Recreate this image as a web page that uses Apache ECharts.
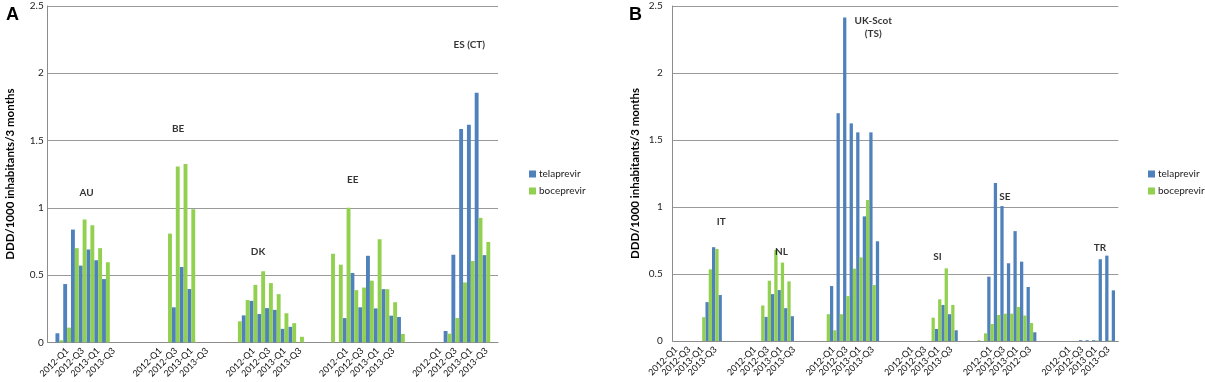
<!DOCTYPE html>
<html><head><meta charset="utf-8">
<script src="https://cdn.jsdelivr.net/npm/echarts@6/dist/echarts.min.js"></script>
<style>html,body{margin:0;padding:0;background:#fff}#c{width:1205px;height:382px}</style>
</head><body><div id="c"></div>
<script>
// Each country block: 10 quarter slots (2011-Q3 ... 2013-Q4) followed by 2 spacer slots.
const SERIES_NAMES = ['telaprevir', 'boceprevir'];
const Y_MAX = 2.5, Y_STEP = 0.5;
const Y_TITLE = 'DDD/1000 inhabitants/3 months';
const TICK_SLOTS = [2, 4, 6, 8];

// ---------- Panel A ----------
const A_COUNTRIES = ['AU', 'BE', 'DK', 'EE', 'ES (CT)'];
const A_TICKS = [
  ['2012-Q1', '2012-Q3', '2013-Q1', '2013-Q3'],
  ['2012-Q1', '2012-Q3', '2013-Q1', '2013-Q3'],
  ['2012-Q1', '2012-Q3', '2013-Q1', '2013-Q3'],
  ['2012-Q1', '2012-Q3', '2013-Q1', '2013-Q3'],
  ['2012-Q1', '2012-Q3', '2013-Q1', '2013-Q3']
];
const AU_TELA = [null, 0.067, 0.433, 0.838, 0.57, 0.69, 0.61, 0.47, null, null];
const AU_BOCE = [null, 0.015, 0.109, 0.70, 0.913, 0.87, 0.70, 0.595, null, null];
const BE_TELA = [null, null, null, null, 0.26, 0.56, 0.396, null, null, null];
const BE_BOCE = [null, null, null, 0.808, 1.306, 1.326, 0.99, null, null, null];
const DK_TELA = [null, 0.20, 0.308, 0.21, 0.254, 0.241, 0.10, 0.115, null, null];
const DK_BOCE = [0.156, 0.314, 0.427, 0.528, 0.44, 0.358, 0.216, 0.142, 0.041, null];
const EE_TELA = [null, null, 0.18, 0.515, 0.26, 0.643, 0.252, 0.395, 0.198, 0.188];
const EE_BOCE = [0.658, 0.577, 1.0, 0.388, 0.407, 0.458, 0.766, 0.395, 0.298, 0.062];
const ES_TELA = [null, null, null, 0.084, 0.651, 1.585, 1.617, 1.856, 0.648, null];
const ES_BOCE = [null, null, null, 0.064, 0.181, 0.445, 0.604, 0.925, 0.746, null];
const A_LABEL_SLOT = [5.0, 4.8, 3.1, 3.3, 6.3];
const A_LABEL_VALUE = [1.11, 1.59, 0.675, 1.21, 2.21];
const A_FIRST_SLOT = 0, A_SLOT_COUNT = 58;

// ---------- Panel B ----------
const B_COUNTRIES = ['IT', 'NL', 'UK-Scot\n(TS)', 'SI', 'SE', 'TR'];
const B_TICKS = [
  ['2012-Q1', '2012-Q3', '2013-Q1', '2013-Q3'],
  ['2012-Q1', '2012-Q3', '2013-Q1', '2013-Q3'],
  ['2012-Q1', '2012-Q3', '2013-Q1', '2013-Q3'],
  ['2012-Q1', '2012-Q3', '2013-Q1', '2013-Q3'],
  ['2012-Q1', '2012-Q3', '2013-Q1', '2012-Q3'],
  ['2012-Q1', '2012-Q3', '2013 Q1', '2013-Q3']
];
const IT_TELA = [null, null, null, null, null, null, null, 0.29, 0.70, 0.343];
const IT_BOCE = [null, null, null, null, null, null, 0.178, 0.535, 0.687, null];
const NL_TELA = [null, null, null, null, 0.18, 0.35, 0.38, 0.245, 0.185, null];
const NL_BOCE = [null, null, null, 0.265, 0.45, 0.68, 0.585, 0.445, null, null];
const UK_TELA = [null, null, 0.41, 1.70, 2.415, 1.624, 1.557, 0.93, 1.557, 0.744];
const UK_BOCE = [null, 0.20, 0.08, 0.20, 0.335, 0.54, 0.624, 1.052, 0.418, null];
const SI_TELA = [null, null, null, null, null, null, 0.09, 0.269, 0.20, 0.08];
const SI_BOCE = [null, null, null, null, null, 0.174, 0.311, 0.542, 0.269, null];
const SE_TELA = [null, null, 0.48, 1.18, 1.007, 0.58, 0.82, 0.592, 0.403, 0.065];
const SE_BOCE = [0.005, 0.057, 0.127, 0.194, 0.204, 0.204, 0.254, 0.19, 0.134, null];
const TR_TELA = [null, null, null, null, 0.006, 0.006, 0.006, 0.61, 0.637, 0.378];
const TR_BOCE = [null, null, null, null, null, null, 0.004, null, 0.004, null];
const B_LABEL_SLOT = [9.4, 6.6, 8.6, 6.4, 4.7, 7.2];
const B_LABEL_VALUE = [0.89, 0.666, 2.338, 0.629, 1.077, 0.692];
const B_FIRST_SLOT = 2, B_SLOT_COUNT = 68;

const TELA_COLOR = '#4f81bd', BOCE_COLOR = '#92d050';
const GROUP = 12;

function buildPanel(countries, ticks, tela, boce, labelSlot, labelValue, first, count) {
  const cats = [], t = [], b = [];
  countries.forEach((c, g) => {
    for (let s = 0; s < GROUP; s++) {
      const ti = TICK_SLOTS.indexOf(s);
      cats.push(ti >= 0 ? ticks[g][ti] : '');
      t.push(s < tela[g].length ? tela[g][s] : null);
      b.push(s < boce[g].length ? boce[g][s] : null);
    }
  });
  const labels = countries.map((c, g) => [GROUP * g - first + labelSlot[g], labelValue[g], c]);
  return {
    cats: cats.slice(first, first + count),
    tela: t.slice(first, first + count),
    boce: b.slice(first, first + count),
    labels: labels
  };
}

const PA = buildPanel(A_COUNTRIES, A_TICKS,
  [AU_TELA, BE_TELA, DK_TELA, EE_TELA, ES_TELA],
  [AU_BOCE, BE_BOCE, DK_BOCE, EE_BOCE, ES_BOCE],
  A_LABEL_SLOT, A_LABEL_VALUE, A_FIRST_SLOT, A_SLOT_COUNT);
const PB = buildPanel(B_COUNTRIES, B_TICKS,
  [IT_TELA, NL_TELA, UK_TELA, SI_TELA, SE_TELA, TR_TELA],
  [IT_BOCE, NL_BOCE, UK_BOCE, SI_BOCE, SE_BOCE, TR_BOCE],
  B_LABEL_SLOT, B_LABEL_VALUE, B_FIRST_SLOT, B_SLOT_COUNT);

const FONT = 'Lato';
const catAxis = (gi, cats) => ({
  type: 'category', gridIndex: gi, data: cats, boundaryGap: true,
  axisTick: { show: false },
  axisLine: { lineStyle: { color: '#8c8c8c', width: 1 } },
  splitLine: { show: false },
  axisLabel: {
    interval: (i, v) => v !== '', rotate: 45, fontSize: 9, margin: 7,
    color: '#111', fontFamily: FONT
  }
});
const valAxis = (gi, margin) => ({
  type: 'value', gridIndex: gi, min: 0, max: Y_MAX, interval: Y_STEP,
  axisLine: { show: true, lineStyle: { color: '#8c8c8c' } },
  axisTick: { show: false },
  splitLine: { lineStyle: { color: '#9a9a9a', width: 1 } },
  axisLabel: { fontSize: 10, margin: margin, color: '#222', fontFamily: FONT },
  name: Y_TITLE, nameLocation: 'middle', nameGap: 31,
  nameTextStyle: { fontWeight: 'bold', fontSize: 11.5, color: '#000', fontFamily: FONT }
});
const barSeries = (name, xi, data, color) => ({
  type: 'bar', name: name, xAxisIndex: xi, yAxisIndex: xi, data: data,
  barGap: '0%', barCategoryGap: '0%', itemStyle: { color: color },
  emphasis: { disabled: true }
});
const labelSeries = (xi, yi, data) => ({
  type: 'scatter', name: 'country', xAxisIndex: xi, yAxisIndex: yi, data: data,
  symbolSize: 0, silent: true, z: 10,
  label: {
    show: true, position: 'inside', formatter: p => p.data[2],
    fontSize: 10, fontWeight: 'bold', fontFamily: FONT, color: '#000', lineHeight: 13
  }
});
const legend = (left) => ({
  data: SERIES_NAMES, orient: 'vertical', left: left, top: 164, icon: 'rect',
  itemWidth: 7, itemHeight: 7, itemGap: 7, selectedMode: false,
  textStyle: { fontSize: 10, fontFamily: FONT, color: '#222', padding: [0, 0, 0, -2] }
});

const chart = echarts.init(document.getElementById('c'), null, { renderer: 'canvas' });
chart.setOption({
  animation: false,
  backgroundColor: '#fff',
  title: [
    { text: 'A', left: 1, top: 1, textStyle: { fontSize: 18, fontWeight: 'bold', fontFamily: 'Liberation Sans', color: '#000' } },
    { text: 'B', left: 624, top: 1, textStyle: { fontSize: 18, fontWeight: 'bold', fontFamily: 'Liberation Sans', color: '#000' } }
  ],
  legend: [legend(524), legend(1143)],
  grid: [
    { left: 47.7, right: 707, top: 6, bottom: 39.7 },
    { left: 672.7, right: 86.7, top: 6, bottom: 41 }
  ],
  xAxis: [
    catAxis(0, PA.cats), catAxis(1, PB.cats),
    { type: 'value', gridIndex: 0, min: 0, max: PA.cats.length, show: false },
    { type: 'value', gridIndex: 1, min: 0, max: PB.cats.length, show: false }
  ],
  yAxis: [valAxis(0, 4), valAxis(1, 10)],
  series: [
    barSeries('telaprevir', 0, PA.tela, TELA_COLOR),
    barSeries('boceprevir', 0, PA.boce, BOCE_COLOR),
    barSeries('telaprevir', 1, PB.tela, TELA_COLOR),
    barSeries('boceprevir', 1, PB.boce, BOCE_COLOR),
    labelSeries(2, 0, PA.labels),
    labelSeries(3, 1, PB.labels)
  ]
});
</script></body></html>
